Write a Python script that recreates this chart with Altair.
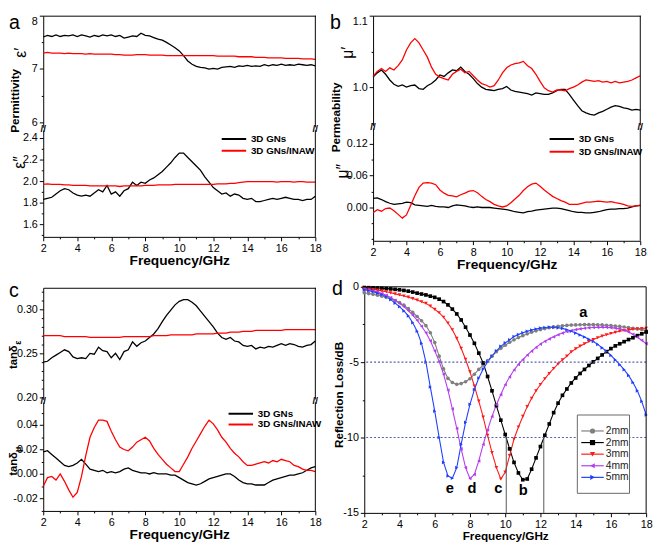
import altair as alt
import pandas as pd

FONT = "Liberation Sans"

FREQ = [2.0, 2.25, 2.5, 2.75, 3.0, 3.25, 3.5, 3.75, 4.0, 4.25, 4.5, 4.75,
        5.0, 5.25, 5.5, 5.75, 6.0, 6.25, 6.5, 6.75, 7.0, 7.25, 7.5, 7.75,
        8.0, 8.25, 8.5, 8.75, 9.0, 9.25, 9.5, 9.75, 10.0, 10.25, 10.5, 10.75,
        11.0, 11.25, 11.5, 11.75, 12.0, 12.25, 12.5, 12.75, 13.0, 13.25, 13.5, 13.75,
        14.0, 14.25, 14.5, 14.75, 15.0, 15.25, 15.5, 15.75, 16.0, 16.25, 16.5, 16.75,
        17.0, 17.25, 17.5, 17.75, 18.0]

# (a) permittivity
EPS1_GN = [7.60, 7.63, 7.61, 7.64, 7.61, 7.63, 7.62, 7.64, 7.61, 7.64, 7.62, 7.60,
           7.63, 7.61, 7.64, 7.62, 7.64, 7.61, 7.63, 7.58, 7.60, 7.62, 7.61, 7.67,
           7.63, 7.62, 7.59, 7.56, 7.54, 7.50, 7.45, 7.40, 7.34, 7.25, 7.15, 7.09,
           7.05, 7.03, 7.02, 7.00, 7.01, 7.00, 7.03, 7.04, 7.05, 7.03, 7.06, 7.05,
           7.07, 7.05, 7.06, 7.05, 7.08, 7.06, 7.08, 7.07, 7.09, 7.07, 7.08, 7.07,
           7.09, 7.08, 7.07, 7.08, 7.06]
EPS1_INAW = [7.30, 7.31, 7.30, 7.30, 7.30, 7.29, 7.30, 7.29, 7.29, 7.29, 7.28, 7.29,
             7.28, 7.28, 7.28, 7.28, 7.28, 7.27, 7.27, 7.26, 7.26, 7.26, 7.27, 7.27,
             7.27, 7.26, 7.26, 7.26, 7.26, 7.25, 7.25, 7.25, 7.25, 7.25, 7.25, 7.25,
             7.25, 7.25, 7.25, 7.25, 7.25, 7.24, 7.24, 7.24, 7.24, 7.24, 7.23, 7.23,
             7.23, 7.23, 7.22, 7.22, 7.22, 7.21, 7.21, 7.21, 7.21, 7.20, 7.20, 7.20,
             7.20, 7.19, 7.19, 7.19, 7.18]
EPS2_GN = [1.83, 1.84, 1.85, 1.88, 1.91, 1.93, 1.92, 1.89, 1.87, 1.86, 1.87, 1.86,
           1.89, 1.92, 1.90, 1.96, 1.88, 1.90, 1.86, 1.91, 1.93, 1.99, 1.96, 1.99,
           1.98, 2.01, 2.03, 2.06, 2.09, 2.13, 2.17, 2.22, 2.26, 2.26, 2.22, 2.18,
           2.14, 2.10, 2.04, 1.99, 1.94, 1.91, 1.88, 1.89, 1.86, 1.88, 1.87, 1.84,
           1.83, 1.84, 1.81, 1.81, 1.82, 1.83, 1.84, 1.83, 1.84, 1.85, 1.84, 1.83,
           1.83, 1.82, 1.83, 1.83, 1.86]
EPS2_INAW = [1.970, 1.975, 1.970, 1.970, 1.970, 1.965, 1.965, 1.960, 1.960, 1.960, 1.960, 1.955,
             1.955, 1.955, 1.955, 1.955, 1.955, 1.955, 1.950, 1.955, 1.955, 1.955, 1.955, 1.955,
             1.960, 1.960, 1.960, 1.965, 1.965, 1.965, 1.965, 1.970, 1.970, 1.970, 1.970, 1.970,
             1.970, 1.970, 1.970, 1.970, 1.970, 1.975, 1.975, 1.975, 1.980, 1.980, 1.985, 1.990,
             1.995, 1.995, 1.995, 1.995, 1.995, 1.995, 1.995, 1.990, 1.995, 1.995, 1.995, 1.990,
             1.995, 1.995, 1.990, 1.990, 1.990]

# (b) permeability
MU1_GN = [1.014, 1.020, 1.024, 1.018, 1.010, 1.004, 1.001, 1.003, 1.000, 1.002, 1.003, 0.998,
          0.997, 1.002, 1.005, 1.010, 1.017, 1.015, 1.020, 1.024, 1.023, 1.028, 1.022, 1.018,
          1.012, 1.005, 1.000, 0.997, 0.996, 0.995, 0.997, 0.998, 1.001, 0.996, 0.994, 0.993,
          0.992, 0.991, 0.989, 0.992, 0.991, 0.990, 0.990, 0.992, 0.995, 0.997, 0.997, 0.990,
          0.982, 0.974, 0.967, 0.964, 0.962, 0.961, 0.964, 0.966, 0.969, 0.972, 0.974, 0.973,
          0.971, 0.970, 0.968, 0.969, 0.968]
MU1_INAW = [1.015, 1.022, 1.026, 1.022, 1.027, 1.024, 1.030, 1.038, 1.052, 1.062, 1.068, 1.062,
            1.052, 1.042, 1.028, 1.018, 1.014, 1.012, 1.010, 1.018, 1.022, 1.025, 1.020, 1.022,
            1.016, 1.010, 1.005, 1.003, 1.000, 1.002, 1.010, 1.020, 1.027, 1.031, 1.033, 1.034,
            1.036, 1.030, 1.026, 1.018, 1.008, 0.999, 0.995, 0.993, 0.996, 0.996, 0.995, 0.998,
            1.000, 1.003, 1.007, 1.010, 1.009, 1.008, 1.009, 1.007, 1.008, 1.006, 1.008, 1.006,
            1.007, 1.008, 1.010, 1.013, 1.016]
MU2_GN = [0.017, 0.018, 0.015, 0.011, 0.008, 0.006, 0.007, 0.008, 0.010, 0.009, 0.005, 0.004,
          0.003, 0.002, 0.004, 0.002, 0.001, 0.001, 0.000, 0.003, 0.005, 0.004, 0.003, 0.001,
          0.000, 0.001, 0.000, 0.000, 0.000, -0.001, -0.002, -0.003, -0.004, -0.006, -0.008, -0.009,
          -0.010, -0.008, -0.007, -0.005, -0.004, -0.003, -0.002, -0.001, -0.001, -0.002, -0.004, -0.006,
          -0.008, -0.009, -0.009, -0.010, -0.010, -0.009, -0.008, -0.006, -0.004, -0.003, -0.003, -0.002,
          -0.002, -0.001, 0.001, 0.003, 0.004]
MU2_INAW = [-0.010, -0.004, -0.007, -0.002, -0.001, -0.006, -0.013, -0.020, -0.014, 0.004, 0.022, 0.038,
            0.046, 0.047, 0.046, 0.043, 0.033, 0.027, 0.023, 0.022, 0.020, 0.024, 0.027, 0.031,
            0.032, 0.028, 0.021, 0.015, 0.011, 0.006, 0.003, 0.001, 0.003, 0.009, 0.016, 0.023,
            0.032, 0.039, 0.044, 0.046, 0.040, 0.033, 0.027, 0.021, 0.017, 0.013, 0.010, 0.006,
            0.006, 0.006, 0.008, 0.010, 0.010, 0.011, 0.012, 0.011, 0.010, 0.011, 0.009, 0.008,
            0.006, 0.003, 0.002, 0.003, 0.004]

# (c) loss tangents
TANE_GN = [0.240, 0.241, 0.245, 0.248, 0.251, 0.254, 0.252, 0.246, 0.244, 0.245, 0.244, 0.250,
           0.249, 0.257, 0.253, 0.252, 0.245, 0.250, 0.243, 0.252, 0.254, 0.263, 0.258, 0.262,
           0.264, 0.268, 0.272, 0.278, 0.286, 0.293, 0.299, 0.305, 0.309, 0.311, 0.311, 0.308,
           0.304, 0.298, 0.292, 0.286, 0.280, 0.273, 0.268, 0.266, 0.268, 0.264, 0.263, 0.259,
           0.258, 0.259, 0.255, 0.257, 0.256, 0.258, 0.257, 0.259, 0.261, 0.259, 0.261, 0.260,
           0.258, 0.257, 0.259, 0.260, 0.264]
TANE_INAW = [0.270, 0.270, 0.270, 0.270, 0.270, 0.269, 0.269, 0.269, 0.269, 0.269, 0.269, 0.268,
             0.268, 0.268, 0.268, 0.268, 0.268, 0.268, 0.268, 0.269, 0.269, 0.269, 0.269, 0.269,
             0.269, 0.269, 0.270, 0.270, 0.270, 0.270, 0.271, 0.271, 0.271, 0.271, 0.271, 0.271,
             0.272, 0.272, 0.272, 0.272, 0.272, 0.273, 0.273, 0.273, 0.274, 0.274, 0.274, 0.275,
             0.275, 0.275, 0.276, 0.276, 0.276, 0.276, 0.276, 0.276, 0.276, 0.277, 0.277, 0.277,
             0.277, 0.277, 0.277, 0.277, 0.277]
TANM_GN = [0.018, 0.019, 0.016, 0.013, 0.010, 0.007, 0.006, 0.007, 0.009, 0.012, 0.008, 0.004,
           0.003, 0.002, 0.003, 0.001, 0.002, 0.001, 0.002, 0.004, 0.005, 0.003, 0.002, 0.001,
           0.001, 0.000, 0.001, 0.000, 0.000, 0.000, -0.001, -0.001, -0.003, -0.005, -0.007, -0.008,
           -0.009, -0.008, -0.006, -0.004, -0.003, -0.002, -0.001, 0.000, 0.000, -0.002, -0.005, -0.007,
           -0.008, -0.008, -0.009, -0.009, -0.009, -0.007, -0.005, -0.004, -0.003, -0.002, -0.001, -0.001,
           0.000, 0.001, 0.003, 0.005, 0.006]
TANM_INAW = [-0.010, -0.003, -0.002, -0.005, 0.000, -0.006, -0.013, -0.019, -0.015, -0.002, 0.015, 0.030,
             0.038, 0.044, 0.044, 0.043, 0.035, 0.028, 0.022, 0.020, 0.019, 0.022, 0.026, 0.028,
             0.030, 0.027, 0.021, 0.016, 0.012, 0.008, 0.005, 0.002, 0.002, 0.008, 0.014, 0.021,
             0.027, 0.033, 0.039, 0.044, 0.041, 0.036, 0.030, 0.026, 0.021, 0.017, 0.014, 0.010,
             0.007, 0.007, 0.008, 0.009, 0.010, 0.009, 0.011, 0.010, 0.012, 0.011, 0.010, 0.007,
             0.006, 0.004, 0.003, 0.003, 0.002]

# (d) reflection loss
D_A = [-0.40, -0.45, -0.50, -0.56, -0.62, -0.70, -0.80, -0.92, -1.05, -1.22, -1.45, -1.70,
       -1.97, -2.25, -2.58, -3.05, -3.70, -4.60, -5.45, -6.08, -6.35, -6.47, -6.42, -6.30,
       -6.10, -5.80, -5.48, -5.18, -4.90, -4.60, -4.31, -4.08, -3.88, -3.68, -3.52, -3.37,
       -3.24, -3.12, -3.01, -2.92, -2.84, -2.77, -2.71, -2.66, -2.62, -2.59, -2.56, -2.54,
       -2.53, -2.52, -2.51, -2.51, -2.51, -2.52, -2.53, -2.55, -2.57, -2.60, -2.63, -2.67,
       -2.71, -2.75, -2.80, -2.85, -2.90]
D_B = [-0.05, -0.06, -0.07, -0.08, -0.10, -0.12, -0.14, -0.17, -0.20, -0.24, -0.29, -0.35,
       -0.42, -0.48, -0.54, -0.62, -0.70, -0.82, -0.98, -1.20, -1.48, -1.80, -2.20, -2.68,
       -3.20, -3.75, -4.40, -5.05, -5.95, -6.90, -7.88, -8.85, -9.80, -10.75, -11.65, -12.35,
       -12.80, -12.75, -12.10, -11.35, -10.60, -9.85, -9.10, -8.35, -7.72, -7.20, -6.78, -6.38,
       -6.05, -5.75, -5.48, -5.22, -4.98, -4.75, -4.52, -4.30, -4.10, -3.92, -3.78, -3.64,
       -3.50, -3.38, -3.24, -3.12, -3.00]
D_C = [-0.13, -0.15, -0.18, -0.22, -0.27, -0.33, -0.40, -0.47, -0.54, -0.61, -0.69, -0.78,
       -0.88, -0.99, -1.10, -1.28, -1.50, -1.72, -2.02, -2.40, -2.85, -3.42, -4.08, -4.82,
       -5.65, -6.58, -7.58, -8.65, -9.85, -11.00, -12.00, -12.75, -12.30, -11.20, -10.10, -9.30,
       -8.60, -7.95, -7.40, -6.90, -6.48, -6.10, -5.75, -5.42, -5.12, -4.85, -4.60, -4.32,
       -4.12, -3.94, -3.78, -3.63, -3.50, -3.38, -3.27, -3.18, -3.10, -3.02, -2.95, -2.90,
       -2.86, -2.82, -2.79, -2.77, -2.75]
D_D = [-0.15, -0.20, -0.26, -0.34, -0.44, -0.56, -0.71, -0.89, -1.09, -1.32, -1.58, -1.88,
       -2.22, -2.62, -3.05, -3.58, -4.25, -4.95, -5.80, -6.85, -8.10, -9.40, -10.75, -12.00,
       -12.72, -12.45, -11.55, -10.45, -9.50, -8.60, -7.82, -7.15, -6.50, -5.98, -5.52, -5.15,
       -4.83, -4.53, -4.27, -4.02, -3.80, -3.62, -3.46, -3.32, -3.18, -3.07, -2.97, -2.90,
       -2.84, -2.79, -2.75, -2.72, -2.70, -2.69, -2.68, -2.69, -2.71, -2.74, -2.79, -2.88,
       -3.00, -3.15, -3.35, -3.55, -3.77]
D_E = [-0.20, -0.26, -0.33, -0.42, -0.52, -0.66, -0.85, -1.08, -1.32, -1.60, -1.93, -2.38,
       -2.95, -3.75, -5.00, -6.65, -8.25, -10.00, -11.65, -12.55, -12.70, -12.00, -10.45, -9.00,
       -7.80, -6.82, -6.05, -5.45, -4.98, -4.60, -4.25, -3.95, -3.72, -3.52, -3.30, -3.17,
       -3.05, -2.95, -2.87, -2.80, -2.74, -2.70, -2.68, -2.69, -2.72, -2.76, -2.85, -2.95,
       -3.07, -3.20, -3.33, -3.48, -3.63, -3.82, -4.05, -4.28, -4.55, -4.85, -5.17, -5.50,
       -5.88, -6.35, -6.90, -7.60, -8.50]

for _arr in [EPS1_GN, EPS1_INAW, EPS2_GN, EPS2_INAW, MU1_GN, MU1_INAW, MU2_GN, MU2_INAW,
             TANE_GN, TANE_INAW, TANM_GN, TANM_INAW, D_A, D_B, D_C, D_D, D_E]:
    assert len(_arr) == len(FREQ)

SERIES = ["3D GNs", "3D GNs/INAW"]
PAIR_COLORS = ["#000000", "#ff0000"]

D_KEYS = ["a", "b", "c", "d", "e"]
D_LABELS = ["2mm", "2mm", "3mm", "4mm", "5mm"]
D_COLORS = ["#7f7f7f", "#000000", "#ff1a1a", "#b43cf0", "#1f3fff"]
D_SHAPES = ["circle", "square", "triangle-down", "triangle-left", "triangle-right"]
D_ANN_X = [14.44, 11.03, 9.61, 8.11, 6.86]
D_ANN_Y = [-2.0, -13.8, -13.7, -13.65, -13.65]
D_HLINES = [-5, -10]
D_VLINE_X = [10.06, 12.19]
D_VLINE_Y0 = [-15, -15]
D_VLINE_Y1 = [-10, -10]

X_TICKS = [2, 3, 4, 5, 6, 7, 8, 9, 10, 11, 12, 13, 14, 15, 16, 17, 18]
X_MAJOR = [2, 4, 6, 8, 10, 12, 14, 16, 18]

MINUS = "\u2212"


def major_test(majors):
    return "indexof([" + ", ".join(repr(m) for m in majors) + "], datum.value) >= 0"


def label_expr(majors):
    return major_test(majors) + " ? replace(datum.label, '" + MINUS + "', '-') : ''"


def tick_size(majors, big, small):
    return {"condition": {"test": major_test(majors), "value": big}, "value": small}


ONE = pd.DataFrame({"k": [0]})


def text_mark(text, x, y, size, weight="normal", angle=None, align="center", baseline="middle"):
    kw = dict(text=text, fontSize=size, fontWeight=weight, align=align,
              baseline=baseline, font=FONT, color="black")
    if angle is not None:
        kw["angle"] = angle
    return alt.Chart(ONE).mark_text(**kw).encode(x=alt.value(x), y=alt.value(y))


def rule_v(x, y1, y2, color="black"):
    return alt.Chart(ONE).mark_rule(color=color, strokeWidth=1).encode(
        x=alt.value(x), y=alt.value(y1), y2=alt.value(y2))


def rule_h(x1, x2, y, color="black", width=1):
    return alt.Chart(ONE).mark_rule(color=color, strokeWidth=width).encode(
        x=alt.value(x1), x2=alt.value(x2), y=alt.value(y))


def spacer(w, h):
    return alt.Chart(ONE).mark_point(opacity=0).encode(
        x=alt.value(0), y=alt.value(0)).properties(width=w, height=h)


# legend symbol: a 25px horizontal stroke drawn through a small symbol box
SYM_SIZE = 28
SYM_HALF = SYM_SIZE ** 0.5 / 2
LINE_HALF = 12.5
PAIR_SYMBOL = "M-%.3f,0H%.3f" % (LINE_HALF / SYM_HALF, LINE_HALF / SYM_HALF)


def pair_legend(x_start, y_center, row_pad):
    lx = x_start + LINE_HALF - SYM_HALF
    return alt.Legend(orient="none", legendX=lx, legendY=y_center - 5, title=None,
                      symbolType=PAIR_SYMBOL, symbolSize=SYM_SIZE, symbolStrokeWidth=2,
                      labelFontSize=10, labelFontWeight="bold", labelFont=FONT,
                      labelColor="black", labelOffset=LINE_HALF - SYM_HALF + 2.5,
                      rowPadding=row_pad, padding=0)


def subplot(gn, inaw, ydom, yticks, ymajor, yfmt, w, h, top, x0=0, legend=None, extras=()):
    df = pd.DataFrame({"f": FREQ + FREQ, "v": gn + inaw,
                       "s": [SERIES[0]] * len(FREQ) + [SERIES[1]] * len(FREQ)})
    xscale = alt.Scale(domain=[2, 18], range=[x0, w], nice=False, zero=False)
    if top:
        xaxis = alt.Axis(orient="top", labels=False, ticks=False, domain=True,
                         title=None, grid=False)
    else:
        xaxis = alt.Axis(orient="bottom", values=X_TICKS, format="d",
                         labelExpr=label_expr(X_MAJOR), tickSize=tick_size(X_MAJOR, 4, 2),
                         labelFlush=False, labelOverlap=False, labelPadding=2, labelFontSize=11,
                         title="Frequency/GHz", titleFontSize=14, titleFontWeight="bold",
                         titlePadding=0, grid=False)
    ykw = dict(values=yticks, format=yfmt, labelExpr=label_expr(ymajor),
               tickSize=tick_size(ymajor, 4, 2), labelFlush=top, labelOverlap=False,
               labelPadding=2, labelFontSize=11, title=None, grid=False)
    if x0:
        ykw["offset"] = -x0
    lines = alt.Chart(df).mark_line(strokeWidth=1.3).encode(
        x=alt.X("f:Q", scale=xscale, axis=xaxis),
        y=alt.Y("v:Q", scale=alt.Scale(domain=ydom, nice=False, zero=False), axis=alt.Axis(**ykw)),
        color=alt.Color("s:N", scale=alt.Scale(domain=SERIES, range=PAIR_COLORS), legend=legend),
    )
    layers = [lines, rule_v(w, 0, h)]
    if top:
        layers += [text_mark("//", x0, h + 1.5, 10, "bold"), text_mark("//", w, h + 1.5, 10, "bold")]
    layers += list(extras)
    return alt.layer(*layers).properties(width=w, height=h)


# ---------------- panel a ----------------
a_top = subplot(EPS1_GN, EPS1_INAW, [5.908, 8.0], [6.0, 6.5, 7.0, 7.5, 8.0], [6.0, 7.0, 8.0], ".0f",
                278, 114, True,
                extras=[text_mark("a", -35, 14, 20, align="left", baseline="alphabetic"),
                        text_mark("Permittivity", -29, 87, 12, "bold", angle=270),
                        text_mark("\u03b5\u2032", -23, 38, 16, angle=270)])
a_bot = subplot(EPS2_GN, EPS2_INAW, [1.482, 2.473],
                [1.5, 1.6, 1.7, 1.8, 1.9, 2.0, 2.1, 2.2, 2.3, 2.4], [1.6, 1.8, 2.0, 2.2, 2.4], ".1f",
                278, 109, False, legend=pair_legend(180, 9, 2),
                extras=[text_mark("\u03b5\u2033", -24, 33, 16, angle=270)])

# ---------------- panel c ----------------
c_top = subplot(TANE_GN, TANE_INAW, [0.1978, 0.3244],
                [0.2, 0.21, 0.22, 0.23, 0.24, 0.25, 0.26, 0.27, 0.28, 0.29, 0.3, 0.31, 0.32],
                [0.2, 0.25, 0.3], ".2f", 278, 114, True,
                extras=[text_mark("c", -35, 9, 20, align="left", baseline="alphabetic"),
                        text_mark("tan\u03b4", -30, 71, 11.5, "bold", angle=270),
                        text_mark("\u03b5", -26, 56, 9, "bold", angle=270)])
c_bot = subplot(TANM_GN, TANM_INAW, [-0.0302, 0.0586],
                [-0.03, -0.02, -0.01, 0.0, 0.01, 0.02, 0.03, 0.04, 0.05],
                [-0.02, 0.0, 0.02, 0.04], ".2f", 278, 111, False, legend=pair_legend(187, 11.7, 1),
                extras=[text_mark("tan\u03b4", -30, 63, 11.5, "bold", angle=270),
                        text_mark("\u03bc", -26, 48, 9, "bold", angle=270)])

# ---------------- panel b ----------------
b_top = subplot(MU1_GN, MU1_INAW, [0.9466, 1.1], [0.95, 1.0, 1.05, 1.1], [1.0, 1.1], ".1f",
                282, 112, True, x0=9,
                extras=[text_mark("b", -35, 14, 20, align="left", baseline="alphabetic"),
                        text_mark("Permeability", -29, 104, 12, "bold", angle=270),
                        text_mark("\u03bc\u2032", -17, 38, 16, angle=270)])
b_bot = subplot(MU2_GN, MU2_INAW, [-0.0628, 0.1495],
                [-0.06, -0.03, 0.0, 0.03, 0.06, 0.09, 0.12], [0.0, 0.06, 0.12], ".2f",
                282, 115, False, x0=9, legend=pair_legend(187, 11, 3),
                extras=[text_mark("\u03bc\u2033", -22, 44, 16, angle=270)])

# ---------------- panel d ----------------
DW, DH = 288, 231
dfd = pd.DataFrame({"f": FREQ * 5, "v": D_A + D_B + D_C + D_D + D_E,
                    "s": [k for k in D_KEYS for _ in FREQ]})

XS_D = alt.Scale(domain=[2, 18], nice=False, zero=False)
YS_D = alt.Scale(domain=[-15, 0], nice=False, zero=False)
dx = alt.X("f:Q", scale=XS_D, axis=alt.Axis(
    values=X_TICKS, format="d", labelExpr=label_expr(X_MAJOR), tickSize=tick_size(X_MAJOR, 4, 2),
    labelFlush=False, labelOverlap=False, labelPadding=2, labelFontSize=11,
    title="Frequency/GHz", titleFontSize=12, titleFontWeight="bold", titlePadding=1, grid=False))
D_YT = [-15, -12.5, -10, -7.5, -5, -2.5, 0]
D_YM = [-15, -10, -5, 0]
dy = alt.Y("v:Q", scale=YS_D, axis=alt.Axis(
    values=D_YT, format="d", labelExpr=label_expr(D_YM), tickSize=tick_size(D_YM, 4, 2),
    labelOverlap=False, labelPadding=2, labelFontSize=11, grid=False,
    title="Reflection Loss/dB", titleFontSize=12, titleFontWeight="bold",
    titleX=-26, titleY=110, titleAngle=270, titleBaseline="middle", titleAlign="center"))

d_color = alt.Color("s:N", scale=alt.Scale(domain=D_KEYS, range=D_COLORS), legend=None)
d_lines = alt.Chart(dfd).mark_line(strokeWidth=1.1).encode(x=dx, y=dy, color=d_color)
d_pts = alt.Chart(dfd).mark_point(filled=True, size=14, opacity=1).encode(
    x=dx, y=dy, color=d_color,
    shape=alt.Shape("s:N", scale=alt.Scale(domain=D_KEYS, range=D_SHAPES), legend=None))
d_h = alt.Chart(pd.DataFrame({"v": D_HLINES})).mark_rule(
    color="#5560b0", strokeDash=[2, 2], strokeWidth=1.2).encode(y=dy)
d_v = alt.Chart(pd.DataFrame({"f": D_VLINE_X, "v": D_VLINE_Y0, "v2": D_VLINE_Y1})).mark_rule(
    color="#555555", strokeWidth=1).encode(x=dx, y=dy, y2="v2:Q")
d_ann = alt.Chart(pd.DataFrame({"f": D_ANN_X, "v": D_ANN_Y, "t": D_KEYS})).mark_text(
    fontSize=15, fontWeight="bold", baseline="alphabetic", font=FONT, color="black").encode(
    x=dx, y=dy, text="t:N")

# legend box (line + marker + label per curve)
LEG_X0, LEG_X1, LEG_Y0, LEG_Y1 = 217.7, 271.0, 131.0, 211.0
LEG_ROW0, LEG_PITCH = 147.3, 11.85
d_box = alt.Chart(ONE).mark_rect(fill="white", stroke="#666666", strokeWidth=1).encode(
    x=alt.value(LEG_X0), x2=alt.value(LEG_X1), y=alt.value(LEG_Y0), y2=alt.value(LEG_Y1))
leg_layers = [d_box]
for i, (lab, col, shp) in enumerate(zip(D_LABELS, D_COLORS, D_SHAPES)):
    yc = LEG_ROW0 + LEG_PITCH * i
    leg_layers.append(rule_h(LEG_X0 + 4, LEG_X0 + 27, yc, color=col, width=1.2))
    leg_layers.append(alt.Chart(ONE).mark_point(filled=True, size=28, shape=shp, color=col,
                                                opacity=1).encode(
        x=alt.value(LEG_X0 + 15.5), y=alt.value(yc)))
    leg_layers.append(alt.Chart(ONE).mark_text(text=lab, fontSize=10.5, align="left",
                                               baseline="middle", font=FONT, color="#222222").encode(
        x=alt.value(LEG_X0 + 29), y=alt.value(yc)))

d_chart = alt.layer(
    d_lines, d_pts, d_h, d_v, d_ann, *leg_layers,
    rule_h(0, DW, 0), rule_v(DW, 0, DH),
    text_mark("d", -33, 8, 20, align="left", baseline="alphabetic"),
).properties(width=DW, height=DH)

left = alt.vconcat(a_top, spacer(278, 3), a_bot, spacer(278, 52), c_top, spacer(278, 3), c_bot,
                   spacing=0, bounds="flush").resolve_scale(color="independent")
right = alt.vconcat(b_top, spacer(282, 3), b_bot, spacer(282, 47), d_chart,
                    spacing=0, bounds="flush").resolve_scale(color="independent", shape="independent")

chart = alt.hconcat(left, right, spacing=8).resolve_scale(
    color="independent", shape="independent").properties(padding=0).configure(
    font=FONT).configure_view(stroke=None).configure_axis(
    labelFont=FONT, titleFont=FONT, labelColor="black", titleColor="black",
    domainColor="black", tickColor="black", domainWidth=1, tickWidth=1).configure_legend(
    labelFont=FONT)

chart.save("out.html", embed_options={"renderer": "svg", "actions": False})
